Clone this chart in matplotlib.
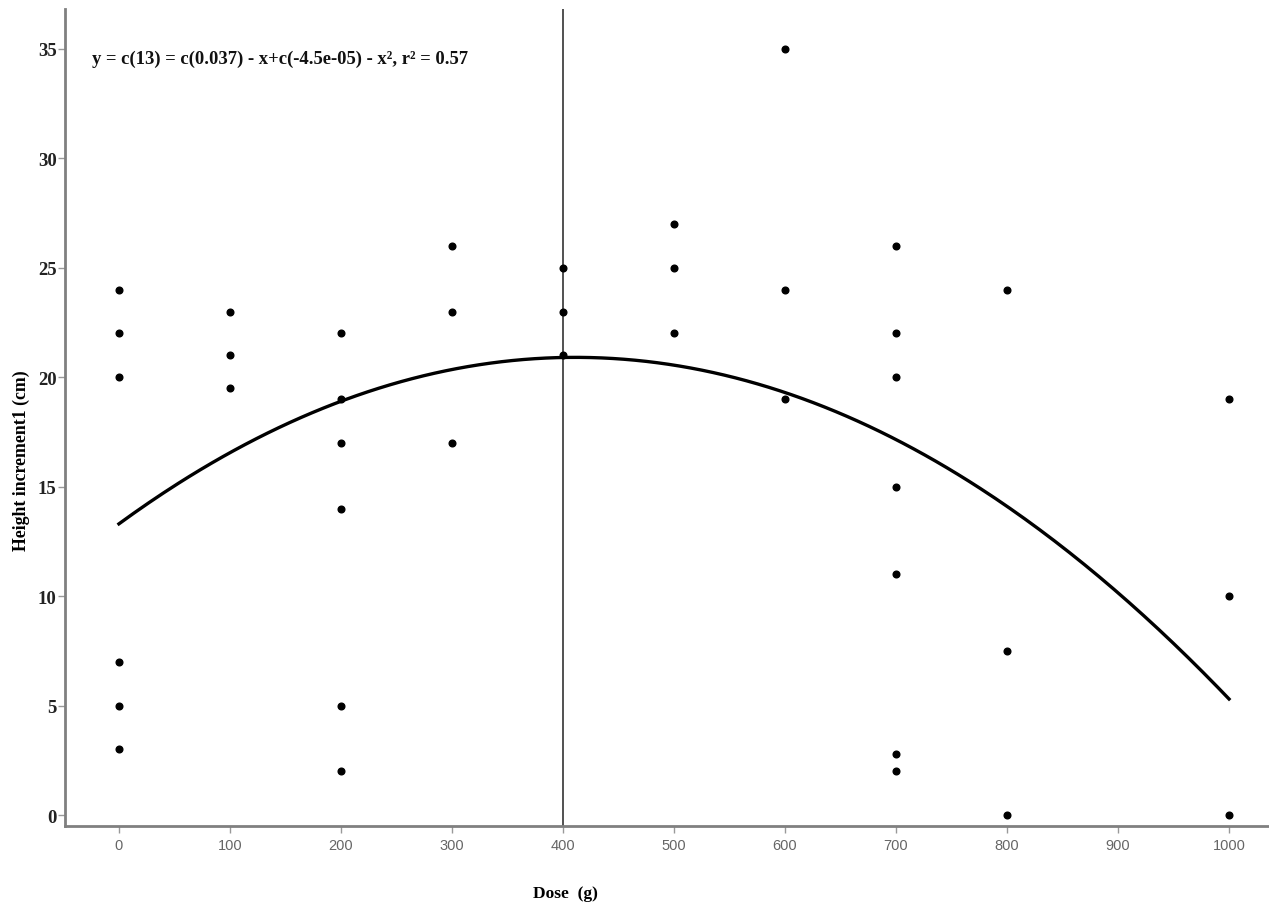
import numpy as np
import matplotlib.pyplot as plt

# observed data
dose = [0, 0, 0, 0, 0, 0,
        100, 100, 100,
        200, 200, 200, 200, 200, 200,
        300, 300, 300,
        400, 400, 400,
        500, 500, 500,
        600, 600, 600,
        700, 700, 700, 700, 700, 700, 700,
        800, 800, 800,
        1000, 1000, 1000]
height = [24, 22, 20, 7, 5, 3,
          23, 21, 19.5,
          22, 19, 17, 14, 5, 2,
          26, 23, 17,
          25, 23, 21,
          27, 25, 22,
          35, 24, 19,
          26, 22, 20, 15, 11, 2.8, 2,
          24, 7.5, 0,
          19, 10, 0]

# quadratic fit coefficients
coef = [13.3, 0.037, -4.5e-05]
x_ticks = [0, 100, 200, 300, 400, 500, 600, 700, 800, 900, 1000]
y_ticks = [0, 5, 10, 15, 20, 25, 30, 35]
vline_x = 400

fig = plt.figure(figsize=(12.69, 9.03), dpi=100)
ax = fig.add_axes([0.0512, 0.0842, 0.9488, 0.905])

xx = np.linspace(0, 1000, 300)
yy = coef[0] + coef[1] * xx + coef[2] * xx ** 2
ax.plot(xx, yy, color='black', lw=2.4, zorder=3)
ax.plot(dose, height, 'o', color='black', ms=4.8, zorder=4)
ax.axvline(vline_x, color='#333333', lw=1.2, zorder=2)

ax.set_xlim(-48.6, 1036)
ax.set_ylim(-0.5, 36.83)

ax.spines['top'].set_visible(False)
ax.spines['right'].set_visible(False)
for s in ['left', 'bottom']:
    ax.spines[s].set_color('#808080')
    ax.spines[s].set_linewidth(2)

ax.set_xticks(x_ticks)
ax.set_xticklabels([str(t) for t in x_ticks], fontsize=10.5, color='#666666',
                   family='Liberation Sans')
ax.set_yticks(y_ticks)
ax.set_yticklabels([str(t) for t in y_ticks], fontsize=13.5, fontweight='bold',
                   family='Liberation Serif', color='#222222')
ax.tick_params(axis='both', color='#999999', length=5, width=1)
ax.tick_params(axis='x', pad=4)
ax.tick_params(axis='y', pad=1)

ax.set_xlabel('Dose  (g)', fontsize=12.5, fontweight='bold',
              family='Liberation Serif')
ax.xaxis.set_label_coords(0.416, -0.072)
ax.set_ylabel('Height increment1 (cm)', fontsize=12.8, fontweight='bold',
              family='Liberation Serif')
ax.yaxis.set_label_coords(-0.0287, 0.448)

ax.text(-24, 34.55, 'y = c(13) = c(0.037) - x+c(-4.5e-05) - x², r² = 0.57',
        fontsize=13.4, fontweight='bold', family='Liberation Serif',
        va='center', ha='left', color='#111111')

fig.savefig('out.png', dpi=100)
